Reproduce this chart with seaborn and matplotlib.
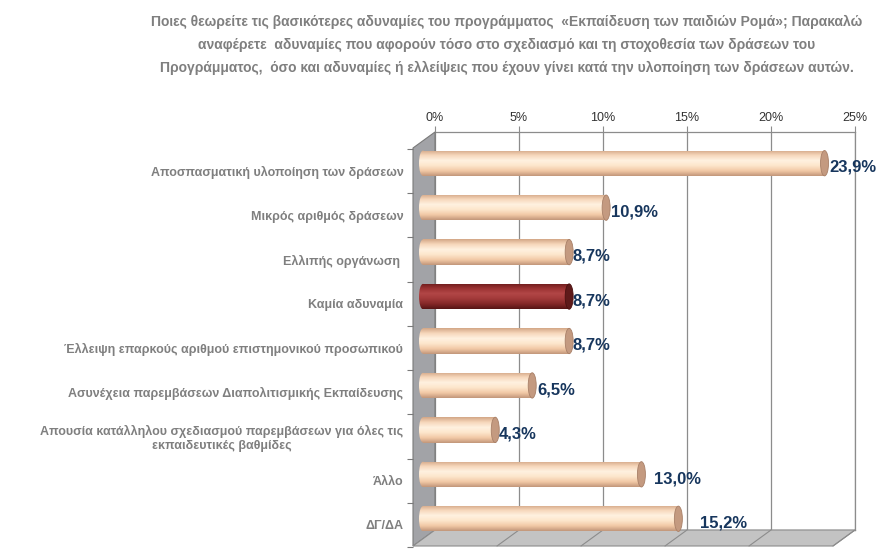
"""
Weaknesses of the Roma children education programme - 3D style cylinder bar chart.
"""
import matplotlib
matplotlib.use("Agg")
import matplotlib.pyplot as plt
import seaborn as sns
import numpy as np
from matplotlib.patches import Ellipse, Polygon
from matplotlib.lines import Line2D
from matplotlib.colors import LinearSegmentedColormap

# data
categories = [
    "Αποσπασματική υλοποίηση των δράσεων",
    "Μικρός αριθμός δράσεων",
    "Ελλιπής οργάνωση ",
    "Καμία αδυναμία",
    "Έλλειψη επαρκούς αριθμού επιστημονικού προσωπικού",
    "Ασυνέχεια παρεμβάσεων Διαπολιτισμικής Εκπαίδευσης",
    "Απουσία κατάλληλου σχεδιασμού παρεμβάσεων για όλες τις\nεκπαιδευτικές βαθμίδες",
    "Άλλο",
    "ΔΓ/ΔΑ",
]
values = [23.9, 10.9, 8.7, 8.7, 8.7, 6.5, 4.3, 13.0, 15.2]
highlight = [False, False, False, True, False, False, False, False, False]
xticks = [0, 5, 10, 15, 20, 25]
xticklabels = ["0%", "5%", "10%", "15%", "20%", "25%"]
title = ("Ποιες θεωρείτε τις βασικότερες αδυναμίες του προγράμματος  «Εκπαίδευση των παιδιών Ρομά»; Παρακαλώ\n"
         "αναφέρετε  αδυναμίες που αφορούν τόσο στο σχεδιασμό και τη στοχοθεσία των δράσεων του\n"
         "Προγράμματος,  όσο και αδυναμίες ή ελλείψεις που έχουν γίνει κατά την υλοποίηση των δράσεων αυτών.")

# label shift to the right of the bar end (px)
label_pad = [4.5, 5, 3, 3, 3, 5, 4, 12.5, 21.5]

W, H = 895, 557
GRAY_TXT = "#7f7f7f"
NAVY = "#17365d"
GRID = "#8c8c8c"

sns.set_theme(style="white")
plt.rcParams["font.family"] = ["Liberation Sans", "DejaVu Sans"]

fig = plt.figure(figsize=(W / 100, H / 100), dpi=100)


def px_axes(left, top, right, bottom, z=0):
    a = fig.add_axes([left / W, 1 - bottom / H, (right - left) / W, (bottom - top) / H])
    a.set_zorder(z)
    return a


def fig_poly(pts, **kw):
    pts = [(x / W, 1 - y / H) for x, y in pts]
    fig.add_artist(Polygon(pts, closed=True, transform=fig.transFigure, **kw))


# back wall with gridlines and the % axis on top
ax_back = px_axes(435, 132, 855, 530, z=0)
ax_back.set_xlim(0, 25)
ax_back.set_ylim(0, 1)
ax_back.set_xticks(xticks)
ax_back.set_xticklabels(xticklabels, fontsize=9, color="#333333")
ax_back.set_yticks([])
ax_back.xaxis.tick_top()
ax_back.tick_params(axis="x", top=True, length=4, width=0.8, color=GRID, pad=2)
ax_back.grid(axis="x", color=GRID, lw=0.9)
for s in ax_back.spines.values():
    s.set_color(GRID)
    s.set_linewidth(0.9)
ax_back.spines["left"].set_visible(False)

# side wall and floor of the 3D frame
px_per = 420 / 25
fig_poly([(413, 148), (435, 132), (435, 530), (413, 546)], facecolor="#a2a3a7",
         edgecolor="#7a7a7a", lw=0.8, zorder=0.5)
fig_poly([(413, 546), (435, 530), (855, 530), (833, 546)], facecolor="#c3c3c3",
         edgecolor=GRID, lw=0.8, zorder=0.5)
for t in xticks[1:]:
    xb = 435 + t * px_per
    fig.add_artist(Line2D([xb / W, (xb - 22) / W], [1 - 530 / H, 1 - 546 / H],
                          transform=fig.transFigure, color=GRID, lw=0.8, zorder=0.6))

# front layer: category labels and little separator ticks
ax_front = px_axes(413, 149, 420, 547, z=2)
ax_front.set_ylim(len(categories) - 0.5, -0.5)
ax_front.set_xlim(0, 1)
ax_front.patch.set_alpha(0)
for s in ax_front.spines.values():
    s.set_visible(False)
ax_front.set_xticks([])
ax_front.set_yticks(range(len(categories)))
ax_front.set_yticklabels(categories, fontsize=9, fontweight="bold", color=GRAY_TXT,
                         multialignment="center")
ax_front.set_yticks(np.arange(len(categories) + 1) - 0.5, minor=True)
ax_front.tick_params(axis="y", which="major", length=0, pad=7)
ax_front.tick_params(axis="y", which="minor", left=True, length=4, width=0.8, color="#7a7a7a")

# bars (value 0 sits at x=423 px, a little in front of the back wall)
cap_px = 8
ax = px_axes(423 - cap_px / 2, 141, 843, 541, z=3)
ax.patch.set_alpha(0)
sns.barplot(x=values, y=categories, hue=categories, orient="h", width=0.57,
            palette=["#fbe0c6"] * len(categories), legend=False, ax=ax)
xlim = (-cap_px / 2 / px_per, 25)
ax.set_xlim(*xlim)
ax.set_ylim(len(categories) - 0.5, -0.5)
ax.axis("off")

peach = LinearSegmentedColormap.from_list(
    "peach", ["#d2a686", "#f7d8bc", "#fff1e0", "#fde6cc", "#f2c9a6", "#c2967a"])
wine = LinearSegmentedColormap.from_list(
    "wine", ["#6a1a1a", "#9a3232", "#b24646", "#a23a3a", "#842828", "#561414"])
grad = np.linspace(0, 1, 128).reshape(-1, 1)
cap_w = cap_px / px_per

bars = [p for p in ax.patches]
for i, p in enumerate(bars):
    x0, y0, w, h = p.get_x(), p.get_y(), p.get_width(), p.get_height()
    yc = y0 + h / 2
    cmap = wine if highlight[i] else peach
    p.set_facecolor("none")
    p.set_edgecolor("none")
    im = ax.imshow(grad, extent=[x0, x0 + w, y0 + h, y0], aspect="auto", cmap=cmap, zorder=2)
    im.set_clip_path(p)
    left = Ellipse((x0, yc), cap_w, h, facecolor="none", edgecolor="none")
    ax.add_patch(left)
    im2 = ax.imshow(grad, extent=[x0 - cap_w / 2, x0 + cap_w / 2, y0 + h, y0],
                    aspect="auto", cmap=cmap, zorder=2)
    im2.set_clip_path(left)
    cap_fc = "#5e1a1a" if highlight[i] else "#c49a80"
    cap_ec = "#4a1010" if highlight[i] else "#a88068"
    ax.add_patch(Ellipse((x0 + w, yc), cap_w, h, facecolor=cap_fc, edgecolor=cap_ec,
                         lw=0.6, zorder=3))
    ax.annotate(f"{values[i]:.1f}%".replace(".", ","), (x0 + w, yc),
                xytext=(label_pad[i] * 0.72, -3), textcoords="offset points",
                ha="left", va="center", fontsize=12, fontweight="bold", color=NAVY,
                annotation_clip=False, zorder=5)
ax.set_xlim(*xlim)
ax.set_ylim(len(categories) - 0.5, -0.5)

fig.text(507 / W, 1 - 45 / H, title, ha="center", va="center", fontsize=10,
         fontweight="bold", color=GRAY_TXT, linespacing=1.85)

fig.savefig("out.png", dpi=100)
